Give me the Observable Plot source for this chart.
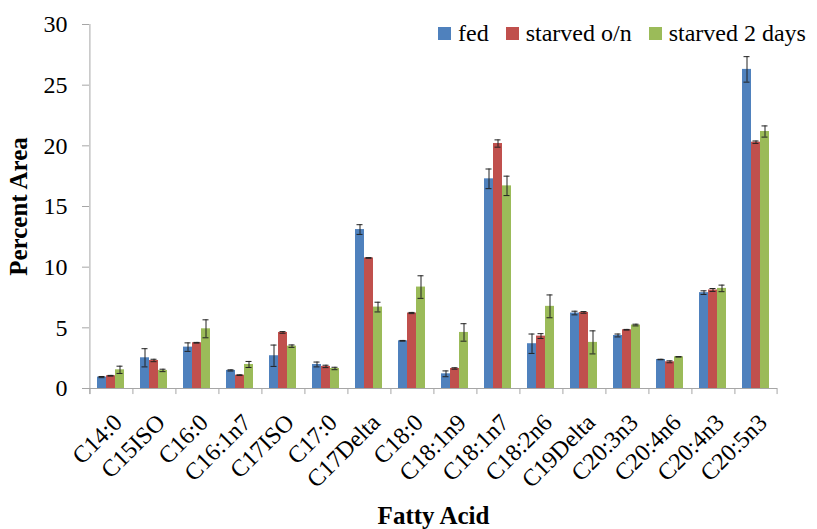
<!DOCTYPE html>
<html>
<head>
<meta charset="utf-8">
<script src="https://cdn.jsdelivr.net/npm/d3@7"></script>
<script src="https://cdn.jsdelivr.net/npm/@observablehq/plot@0.6"></script>
<style>
  html, body { margin: 0; padding: 0; background: #fff; }
  #wrap { position: relative; width: 817px; height: 529px; font-family: 'Liberation Serif', serif; }
  #wrap svg { font-family: 'Liberation Serif', serif; font-size: 24px; }
  #wrap svg g[aria-label="y-axis label"] text, #wrap svg g[aria-label="fx-axis label"] text { font-weight: bold; font-size: 25px; }
  #legend { position: absolute; top: 20px; left: 438px; display: flex; align-items: center; font-family: 'Liberation Serif', serif; font-size: 24px; color: #000; white-space: nowrap; }
  #legend .item { display: flex; align-items: center; margin-right: 17px; }
  #legend .sw { width: 13px; height: 13px; margin-right: 7px; }
</style>
</head>
<body>
<div id="wrap"><div id="legend"></div></div>
<script>
const categories = ["C14:0","C15ISO","C16:0","C16:1n7","C17ISO","C17:0","C17Delta","C18:0","C18:1n9","C18:1n7","C18:2n6","C19Delta","C20:3n3","C20:4n6","C20:4n3","C20:5n3"];
const series = ["fed", "starved o/n", "starved 2 days"];
const colors = ["#4F81BD", "#C0504D", "#9BBB59"];

const fed          = [0.94, 2.53, 3.41, 1.49, 2.70, 1.98, 13.10, 3.93, 1.21, 17.28, 3.69, 6.22, 4.37, 2.39, 7.90, 26.30];
const fedErr       = [0.05, 0.75, 0.35, 0.05, 0.88, 0.20, 0.40, 0.03, 0.24, 0.81, 0.80, 0.15, 0.12, 0.02, 0.15, 1.05];
const starvedON    = [1.05, 2.31, 3.77, 1.10, 4.62, 1.82, 10.76, 6.22, 1.65, 20.19, 4.32, 6.27, 4.84, 2.20, 8.12, 20.30];
const starvedONErr = [0.03, 0.10, 0.03, 0.03, 0.07, 0.10, 0.03, 0.05, 0.06, 0.30, 0.20, 0.07, 0.03, 0.08, 0.12, 0.10];
const starved2     = [1.54, 1.49, 4.92, 1.98, 3.49, 1.65, 6.71, 8.36, 4.62, 16.70, 6.77, 3.80, 5.23, 2.61, 8.25, 21.18];
const starved2Err  = [0.30, 0.10, 0.74, 0.25, 0.10, 0.10, 0.40, 0.93, 0.72, 0.80, 0.94, 0.95, 0.07, 0.02, 0.27, 0.46];
const yTicks = [0, 5, 10, 15, 20, 25, 30];

const values = [fed, starvedON, starved2];
const errs = [fedErr, starvedONErr, starved2Err];
const data = categories.flatMap((c, i) => series.map((s, j) => ({cat: c, series: s, value: values[j][i], err: errs[j][i]})));

const W = 817, H = 529, mL = 85, mR = 36, mT = 24, mB = 141;
const facetW = (W - mL - mR) / categories.length;
const step = facetW / 4.5;
const edge = 1.25 * step;
const axisGray = "#a6a6a6";

const boundaries = categories.map(c => ({cat: c}));
const chart = Plot.plot({
  width: W, height: H,
  marginLeft: mL, marginRight: mR, marginTop: mT, marginBottom: mB,
  style: {"font-family": "'Liberation Serif', serif", "font-size": "24px", "color": "#000", "background": "#fff"},
  fx: {domain: categories, padding: 0},
  x: {domain: series, paddingInner: 0, paddingOuter: 0.75, axis: null},
  y: {domain: [0, 30], ticks: yTicks},
  color: {domain: series, range: colors},
  marks: [
    Plot.axisY({ticks: yTicks, tickSize: 7, tickPadding: 15, stroke: axisGray, fill: "#000",
      label: "Percent Area", labelAnchor: "center", labelArrow: "none", labelOffset: 80,
      fontSize: 24}),
    Plot.axisFx({anchor: "bottom", ticks: [], tickSize: 0,
      label: "Fatty Acid", labelAnchor: "center", labelArrow: "none", labelOffset: 135}),
    Plot.text(boundaries, {fx: "cat", text: "cat", frameAnchor: "bottom", rotate: -45,
      textAnchor: "end", lineAnchor: "middle", dx: 7, dy: 30, fontSize: 24, fill: "#000"}),
    Plot.ruleY([0], {stroke: axisGray}),
    Plot.ruleX([{cat: categories[0]}], {fx: "cat", x: () => "fed", dx: -edge, y1: -0.5, y2: 30, stroke: axisGray}),
    Plot.ruleX(boundaries, {fx: "cat", x: () => "fed", dx: -edge, y1: -0.5, y2: 0, stroke: axisGray}),
    Plot.ruleX([{cat: categories[categories.length - 1]}], {fx: "cat", x: () => "starved 2 days", dx: edge, y1: -0.5, y2: 0, stroke: axisGray}),
    Plot.barY(data, {fx: "cat", x: "series", y: "value", fill: "series"}),
    Plot.ruleX(data, {fx: "cat", x: "series", y1: d => d.value - d.err, y2: d => d.value + d.err, stroke: "#222", strokeWidth: 1}),
    Plot.tickY(data, {fx: "cat", x: "series", y: d => d.value + d.err, stroke: "#222", insetLeft: 1.5, insetRight: 1.5}),
    Plot.tickY(data, {fx: "cat", x: "series", y: d => d.value - d.err, stroke: "#222", insetLeft: 1.5, insetRight: 1.5})
  ]
});
document.getElementById("wrap").prepend(chart);

const legend = document.getElementById("legend");
series.forEach((s, j) => {
  const item = document.createElement("div");
  item.className = "item";
  const sw = document.createElement("div");
  sw.className = "sw";
  sw.style.background = colors[j];
  const t = document.createElement("span");
  t.textContent = s;
  item.append(sw, t);
  legend.append(item);
});
</script>
</body>
</html>
